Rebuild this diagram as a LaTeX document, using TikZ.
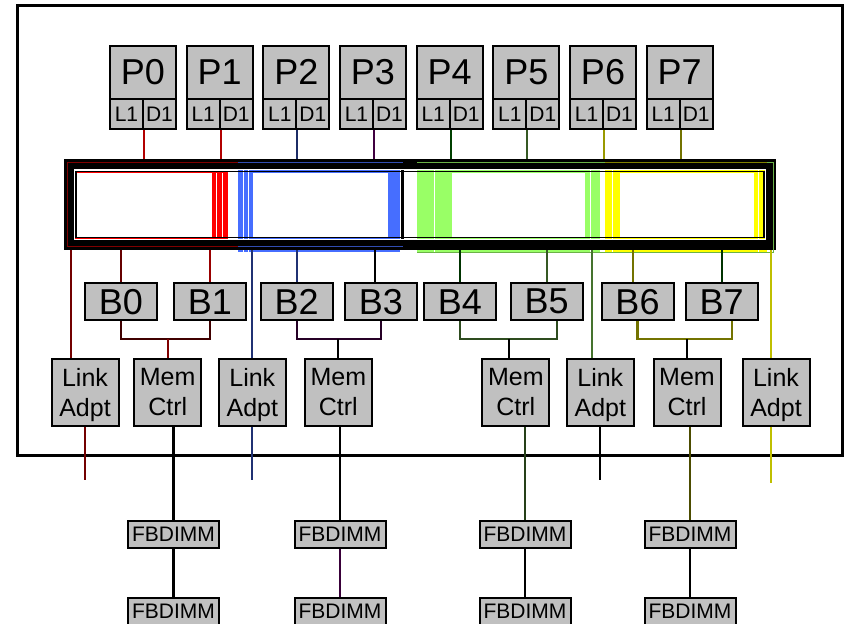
\documentclass[tikz,border=0pt]{standalone}
\usepackage{fontspec}
\setmainfont{Liberation Sans}
\usetikzlibrary{positioning}
\definecolor{boxgray}{RGB}{192,192,192}
\definecolor{busred}{RGB}{255,0,0}
\definecolor{busblue}{RGB}{70,110,255}
\definecolor{busgreen}{RGB}{153,255,102}
\definecolor{busyellow}{RGB}{255,255,0}
\tikzset{% 
	unit/.style = {name = #1, draw, fill = boxgray, line width = 2pt, inner sep = 0pt},
	proc/.style = {unit = #1, minimum width = 66pt, minimum height = 53pt, font = \fontsize{36}{40}\selectfont},
	cache/.style = {unit = #1, minimum width = 33pt, minimum height = 30pt, font = \fontsize{21}{24}\selectfont},
	bank/.style = {unit = #1, minimum width = 72pt, minimum height = 37pt, font = \fontsize{36}{40}\selectfont},
	ctrl/.style = {unit = #1, minimum width = 67pt, minimum height = 67pt, align = center, text depth = 0pt, font = \fontsize{25}{30}\selectfont},
	dimm/.style = {unit = #1, minimum width = 91pt, minimum height = 27pt, font = \fontsize{21}{24}\selectfont},
	wire/.style = {draw = #1, line width = 2.3pt},
	wire/.default = black
}

\begin{document}
\begin{tikzpicture}[x = 1pt, y = -1pt]
			\useasboundingbox (0,0) rectangle (844,624);
			% chip outline
			\draw [line width = 3pt] (17,5) rectangle (842,455);
			% processors
			\node [proc = {P0}] at (143,72.3) {P0};
			\node [cache = {P0l}] at (126.5,114) {L1};
			\node [cache = {P0d}] at (159.5,114) {D1};
			\node [proc = {P1}] at (219.7,72.3) {P1};
			\node [cache = {P1l}] at (203.2,114) {L1};
			\node [cache = {P1d}] at (236.2,114) {D1};
			\node [proc = {P2}] at (296.3,72.3) {P2};
			\node [cache = {P2l}] at (279.8,114) {L1};
			\node [cache = {P2d}] at (312.8,114) {D1};
			\node [proc = {P3}] at (373,72.3) {P3};
			\node [cache = {P3l}] at (356.5,114) {L1};
			\node [cache = {P3d}] at (389.5,114) {D1};
			\node [proc = {P4}] at (449.7,72.3) {P4};
			\node [cache = {P4l}] at (433.2,114) {L1};
			\node [cache = {P4d}] at (466.2,114) {D1};
			\node [proc = {P5}] at (526.3,72.3) {P5};
			\node [cache = {P5l}] at (509.8,114) {L1};
			\node [cache = {P5d}] at (542.8,114) {D1};
			\node [proc = {P6}] at (603,72.3) {P6};
			\node [cache = {P6l}] at (586.5,114) {L1};
			\node [cache = {P6d}] at (619.5,114) {D1};
			\node [proc = {P7}] at (679.7,72.3) {P7};
			\node [cache = {P7l}] at (663.2,114) {L1};
			\node [cache = {P7d}] at (696.2,114) {D1};
			% shared cache, coloured regions
			\fill [busblue] (238,163) rectangle (400,252);
			\fill [white] (253,173) rectangle (388,237);
			\fill [busgreen] (417,163) rectangle (600,252);
			\fill [white] (452,173) rectangle (585,237);
			\fill [busyellow] (605,170) rectangle (767,253);
			\fill [white] (620,173) rectangle (754,237);
			\fill [busred] (212,172) rectangle (227,237);
			\draw [white, line width = 1pt] (216,172) -- (216,237) (222.5,172) -- (222.5,237)
				(243,168) -- (243,252) (248,168) -- (248,252) (434.5,163) -- (434.5,252)
				(590,163) -- (590,252) (612,170) -- (612,253) (758,170) -- (758,253);
			\draw [busred, line width = 1.5pt] (75,172) rectangle (227,238);
			\node [name = bus, draw, line width = 10pt, minimum width = 702pt, minimum height = 80.5pt] at (420,204.25) {};
			\draw [line width = 3pt] (66,161) rectangle (402,248);
			\draw [busred!50!black, line width = 0.8pt] (238,162.5) -- (67,162.5) -- (67,246) -- (238,246);
			\draw [busblue!70!black, line width = 0.8pt] (238,162.5) -- (403,162.5) (238,246) -- (403,246);
			\draw [busgreen!70!black, line width = 0.8pt] (417,162.5) -- (773,162.5) -- (773,252) -- (417,252);
			\draw [busyellow!50!black, line width = 0.8pt] (605,162.5) -- (767,162.5);
			\draw [white, line width = 1pt] (74.5,169.8) rectangle (765.5,239);
			\draw [line width = 1.5pt] (76,171.5) rectangle (764,237.5);
			% banks
			\node [bank = {B0}] at (121,301.7) {B0};
			\node [bank = {B1}] at (210,301.7) {B1};
			\node [bank = {B2}] at (296.7,301.7) {B2};
			\node [bank = {B3}] at (381,301.7) {B3};
			\node [bank = {B4}] at (460,301.7) {B4};
			\node [bank = {B5}] at (546.7,301.7) {B5};
			\node [bank = {B6}] at (637.5,301.7) {B6};
			\node [bank = {B7}] at (721.7,301.7) {B7};
			% link adapters and memory controllers
			\node [ctrl = {A0}] at (85,392) {Link\\Adpt};
			\node [ctrl = {M0}] at (167.7,392) {Mem\\Ctrl};
			\node [ctrl = {A1}] at (252.3,392) {Link\\Adpt};
			\node [ctrl = {M1}] at (338.3,392) {Mem\\Ctrl};
			\node [ctrl = {M2}] at (515.8,392) {Mem\\Ctrl};
			\node [ctrl = {A2}] at (600.3,392) {Link\\Adpt};
			\node [ctrl = {M3}] at (687,392) {Mem\\Ctrl};
			\node [ctrl = {A3}] at (776,392) {Link\\Adpt};
			% memory modules
			\node [dimm = {F0}] at (173.5,534) {FBDIMM};
			\node [dimm = {F0b}] at (173.5,611) {FBDIMM};
			\node [dimm = {F1}] at (340,534) {FBDIMM};
			\node [dimm = {F1b}] at (340,611) {FBDIMM};
			\node [dimm = {F2}] at (525,534) {FBDIMM};
			\node [dimm = {F2b}] at (525,611) {FBDIMM};
			\node [dimm = {F3}] at (690,534) {FBDIMM};
			\node [dimm = {F3b}] at (690,611) {FBDIMM};
			% processors to cache
			\path [wire = busred!70!black] (P0l.south east) edge (P0l.south east |- bus.north);
			\path [wire = busred!70!black] (P1l.south east) edge (P1l.south east |- bus.north);
			\path [wire = busblue!40!black] (P2l.south east) edge (P2l.south east |- bus.north);
			\path [wire = violet!50!black] (P3l.south east) edge (P3l.south east |- bus.north);
			\path [wire = green!25!black] (P4l.south east) edge (P4l.south east |- bus.north);
			\path [wire = busgreen!35!black] (P5l.south east) edge (P5l.south east |- bus.north);
			\path [wire = busyellow!60!black] (P6l.south east) edge (P6l.south east |- bus.north);
			\path [wire = busyellow!45!black] (P7l.south east) edge (P7l.south east |- bus.north);
			% cache to banks
			\path [wire = busred!40!black] (B0.north) edge (B0.north |- bus.south);
			\path [wire = busred!60!black] (B1.north) edge (B1.north |- bus.south);
			\path [wire = busblue!45!black] (B2.north) edge (B2.north |- bus.south);
			\path [wire] ([xshift = -6pt]B3.north) edge ([xshift = -6pt]B3.north |- bus.south);
			\path [wire = green!20!black] (B4.north) edge (B4.north |- bus.south);
			\path [wire = busgreen!35!black] (B5.north) edge (B5.north |- bus.south);
			\path [wire = busyellow!45!black] ([xshift = -4.5pt]B6.north) edge ([xshift = -4.5pt]B6.north |- bus.south);
			\path [wire = green!20!black] (B7.north) edge (B7.north |- bus.south);
			% bank pairs to memory controllers
			\draw [wire = busred!25!black] (B0.south) -- ++(0,18) -| (B1.south);
			\draw [wire = busred!50!black] (M0.north) -- ++(0,-19);
			\draw [wire = violet!30!black] (B2.south) -- ++(0,18) -| (B3.south);
			\draw [wire] (M1.north) -- ++(0,-19);
			\draw [wire = busgreen!30!black] (B4.south) -- ++(0,18) -| ([xshift = 10pt]B5.south);
			\draw [wire] ([xshift = -7pt]M2.north) -- ++(0,-19);
			\draw [wire = busyellow!45!black] (B6.south) -- ++(0,18) -| ([xshift = 10pt]B7.south);
			\draw [wire] (M3.north) -- ++(0,-19);
			% cache to link adapters
			\path [wire = busred!45!black] ([xshift = -14pt]A0.north) edge ([xshift = -14pt]A0.north |- bus.south);
			\path [wire = busblue!45!black] (A1.north) edge (A1.north |- bus.south);
			\path [wire = busgreen!45!black] ([xshift = -8pt]A2.north) edge ([xshift = -8pt]A2.north |- bus.south);
			\path [wire = busyellow!75!black] ([xshift = -5pt]A3.north) edge ([xshift = -5pt]A3.north |- bus.south);
			\draw [wire = busred!45!black] (A0.south) -- ++(0,53);
			\draw [wire = busblue!45!black] (A1.south) -- ++(0,53);
			\draw [wire] (A2.south) -- ++(0,53);
			\draw [wire = busyellow!75!black] ([xshift = -5pt]A3.south) -- ++(0,56);
			% memory controllers to modules
			\path [wire] (F0.north) edge (F0.north |- M0.south);
			\path [wire] (F0b.north) edge (F0.south);
			\path [wire] (F1.north) edge (F1.north |- M1.south);
			\path [wire = violet!45!black] (F1b.north) edge (F1.south);
			\path [wire = busgreen!25!black] (F2.north) edge (F2.north |- M2.south);
			\path [wire] (F2b.north) edge (F2.south);
			\path [wire = busyellow!30!black] (F3.north) edge (F3.north |- M3.south);
			\path [wire] (F3b.north) edge (F3.south);
\end{tikzpicture}
\end{document}
